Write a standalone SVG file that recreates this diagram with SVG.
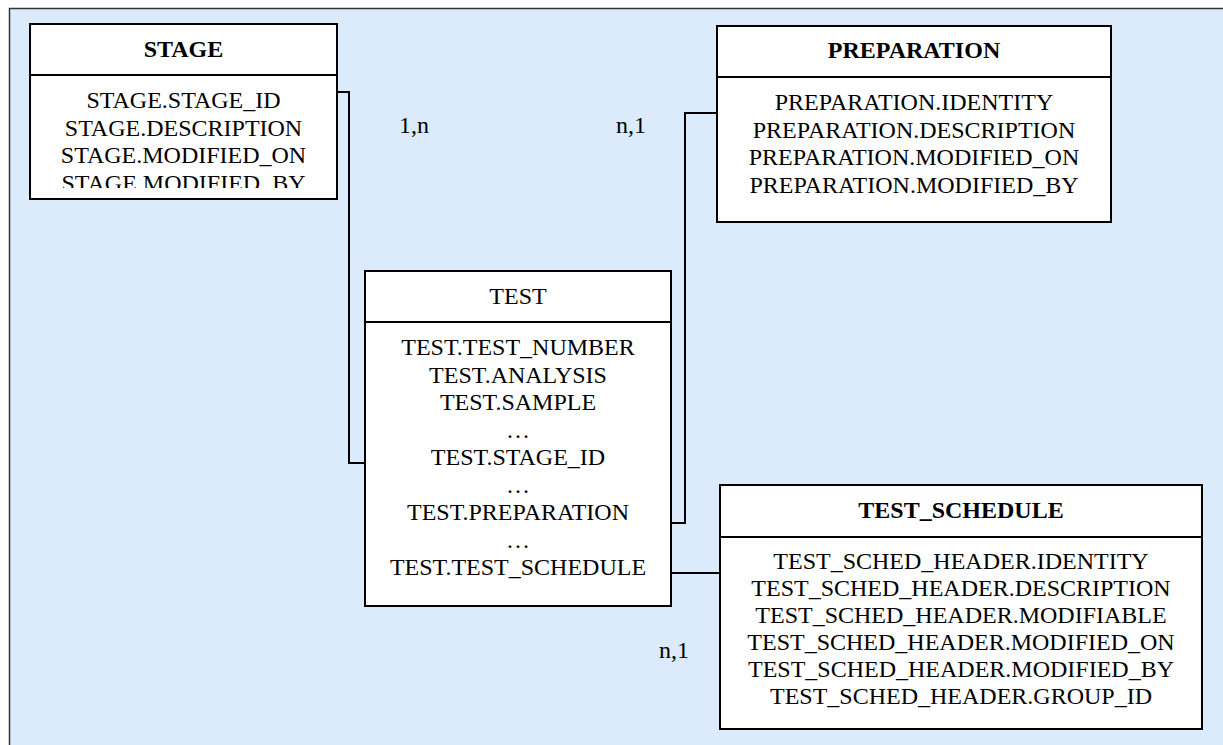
<svg xmlns="http://www.w3.org/2000/svg" width="1223" height="745" viewBox="0 0 1223 745">
<defs>
<style>
.frame{fill:#DBEBFC;stroke:#333;stroke-width:1.5}
.box{fill:#fff;stroke:#000;stroke-width:2}
.div{stroke:#000;stroke-width:2}
.conn{fill:none;stroke:#000;stroke-width:2}
text{font-family:"Liberation Serif","Times New Roman",serif;font-size:24px;fill:#000;text-anchor:middle}
.hb{font-weight:bold}
.lbl{text-anchor:start}
</style>
<clipPath id="stageClip"><rect x="30" y="75" width="307" height="113"/></clipPath>
</defs>
<rect class="frame" x="9.5" y="8.5" width="1230" height="750"/>

<g id="connectors">
<polyline class="conn" points="337,92 349,92 349,463 365,463"/>
<polyline class="conn" points="671,523 685,523 685,113 717,113"/>
<polyline class="conn" points="671,573 720,573"/>
<text class="lbl" x="399" y="133">1,n</text>
<text class="lbl" x="616" y="133">n,1</text>
<text class="lbl" x="659" y="658">n,1</text>
</g>

<g id="stage">
<rect class="box" x="30" y="24" width="307" height="175"/>
<line class="div" x1="30" y1="75" x2="337" y2="75"/>
<text class="hb" x="183.5" y="57">STAGE</text>
<g clip-path="url(#stageClip)">
<text x="183.5" y="108">STAGE.STAGE_ID</text>
<text x="183.5" y="135.5">STAGE.DESCRIPTION</text>
<text x="183.5" y="163">STAGE.MODIFIED_ON</text>
<text x="183.5" y="190.5">STAGE.MODIFIED_BY</text>
</g>
</g>

<g id="preparation">
<rect class="box" x="717" y="26" width="394" height="196"/>
<line class="div" x1="717" y1="77" x2="1111" y2="77"/>
<text class="hb" x="914" y="58">PREPARATION</text>
<text x="914" y="110">PREPARATION.IDENTITY</text>
<text x="914" y="137.5">PREPARATION.DESCRIPTION</text>
<text x="914" y="165">PREPARATION.MODIFIED_ON</text>
<text x="914" y="192.5">PREPARATION.MODIFIED_BY</text>
</g>

<g id="test">
<rect class="box" x="365" y="271" width="306" height="335"/>
<line class="div" x1="365" y1="322" x2="671" y2="322"/>
<text x="518" y="304">TEST</text>
<text x="518" y="355">TEST.TEST_NUMBER</text>
<text x="518" y="382.5">TEST.ANALYSIS</text>
<text x="518" y="410">TEST.SAMPLE</text>
<text x="518" y="437.5">…</text>
<text x="518" y="465">TEST.STAGE_ID</text>
<text x="518" y="492.5">…</text>
<text x="518" y="520">TEST.PREPARATION</text>
<text x="518" y="547.5">…</text>
<text x="518" y="575">TEST.TEST_SCHEDULE</text>
</g>

<g id="test_schedule">
<rect class="box" x="720" y="485" width="482" height="244"/>
<line class="div" x1="720" y1="537" x2="1202" y2="537"/>
<text class="hb" x="961" y="518">TEST_SCHEDULE</text>
<text x="961" y="569">TEST_SCHED_HEADER.IDENTITY</text>
<text x="961" y="596">TEST_SCHED_HEADER.DESCRIPTION</text>
<text x="961" y="623">TEST_SCHED_HEADER.MODIFIABLE</text>
<text x="961" y="650">TEST_SCHED_HEADER.MODIFIED_ON</text>
<text x="961" y="677">TEST_SCHED_HEADER.MODIFIED_BY</text>
<text x="961" y="704">TEST_SCHED_HEADER.GROUP_ID</text>
</g>
</svg>
